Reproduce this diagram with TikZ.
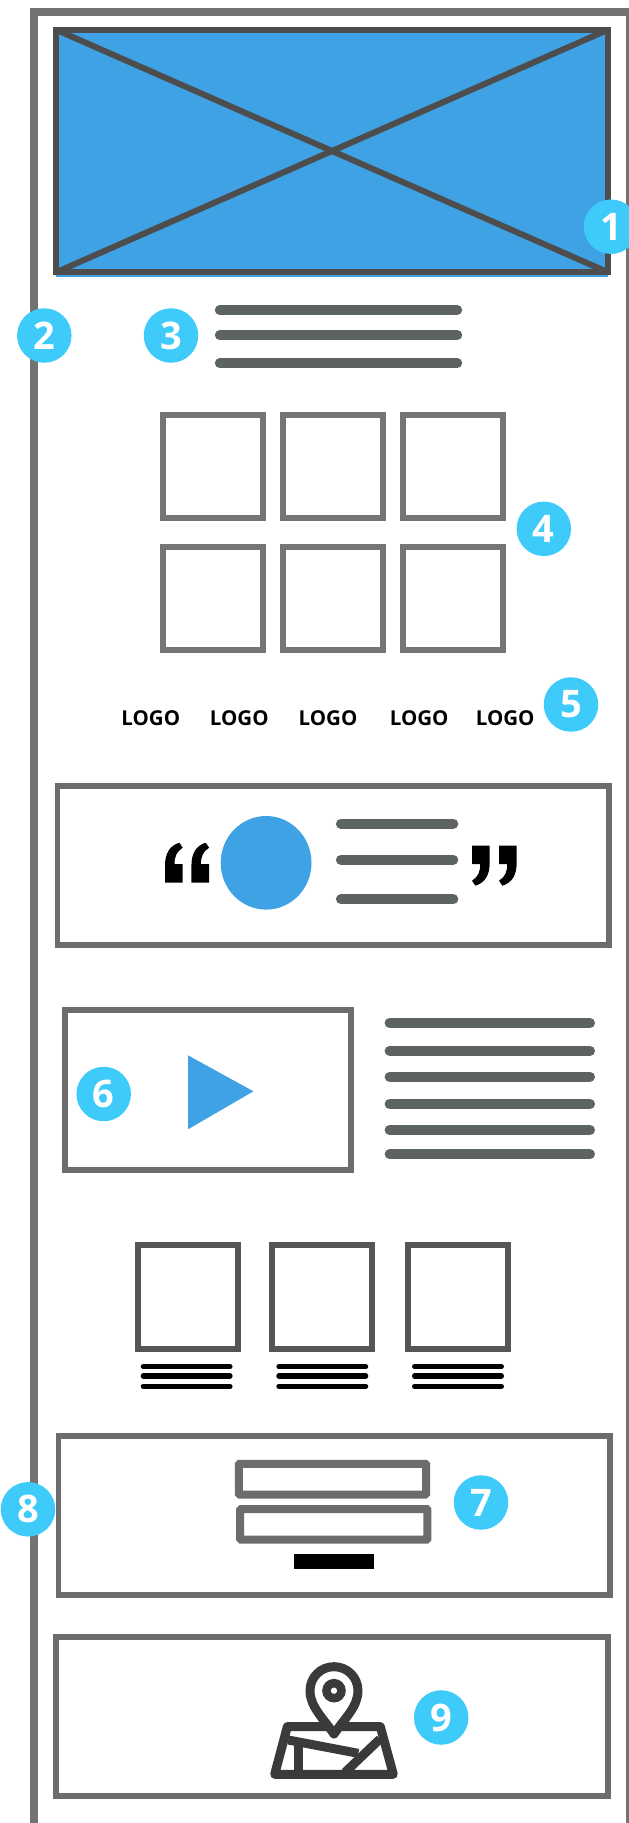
\documentclass[tikz,border=0pt]{standalone}
\usepackage{fontspec}
\setmainfont{Open Sans}
\definecolor{heroblue}{HTML}{3FA2E4}
\definecolor{badge}{HTML}{3ECBFA}
\definecolor{framegrey}{HTML}{737373}
\definecolor{herogrey}{HTML}{4D4D4D}
\definecolor{linegrey}{HTML}{5D6262}
\definecolor{boxgrey}{HTML}{6C6C6C}
\definecolor{gridgrey}{HTML}{757575}
\definecolor{darkgrey}{HTML}{555555}
\definecolor{icongrey}{HTML}{3A3A3A}
\tikzset{
  badgenode/.style={circle,fill=badge,minimum size=54.5pt,inner sep=0pt,text=white,font=\bfseries\fontsize{38}{38}\selectfont},
  logonode/.style={inner sep=0pt,font=\bfseries\fontsize{20.5}{20.5}\selectfont},
  greyline/.style={draw=linegrey,line width=10pt,line cap=round},
  blackline/.style={draw=black,line width=5.4pt,line cap=round},
  panel/.style={draw=boxgrey,line width=5.8pt,fill=white},
  gridbox/.style={draw=gridgrey,line width=5.8pt,fill=white},
  darkbox/.style={draw=darkgrey,line width=5.8pt,fill=white},
  inputbox/.style={draw=boxgrey,line width=8pt,fill=white,rounded corners=1pt},
  iconline/.style={draw=icongrey,line width=9pt,line join=round,line cap=round},
  quoteshape/.style={fill=black},
}
\newcommand{\quoteglyph}{(0,40) -- (17.7,40) -- (17.7,21.5) -- (9.5,21.5) .. controls (9.5,14) and (11.5,9) .. (17.7,5) -- (14.3,0) .. controls (5,3) and (0,10) .. (0,23.3) -- cycle}
\begin{document}
\begin{tikzpicture}[x=1pt,y=-1pt]
\useasboundingbox (0,0) rectangle (629,1823);
% outer frame
\draw[framegrey,line width=7.6pt] (33.7,1830) -- (33.7,12) -- (630,12) -- (630,1830);
% hero
\fill[heroblue] (56,30) rectangle (608,276.7);
\draw[herogrey,line width=6pt] (56,29.7) rectangle (608.1,272.3);
\draw[herogrey,line width=6pt] (56,29.7) -- (608.1,272.3) (608.1,29.7) -- (56,272.3);
% heading lines
\foreach \y in {310,335.3,363.3} \draw[greyline] (219.8,\y) -- (457.2,\y);
% grid
\foreach \xa/\xb in {163/263.3,282.7/383.3,402.7/503}{
  \draw[gridbox] (\xa,414.7) rectangle (\xb,518);
  \draw[gridbox] (\xa,547) rectangle (\xb,650);
}
% logos
\node[logonode] (logoa) at (150.8,718.3) {LOGO};
\node[logonode] (logob) at (239.3,718.3) {LOGO};
\node[logonode] (logoc) at (328,718.3) {LOGO};
\node[logonode] (logod) at (419.2,718.3) {LOGO};
\node[logonode] (logoe) at (505.2,718.3) {LOGO};
% testimonial
\draw[panel] (57.4,785.7) rectangle (609.3,945);
\fill[quoteshape,shift={(165,842.7)}] \quoteglyph;
\fill[quoteshape,shift={(191.4,842.7)}] \quoteglyph;
\fill[quoteshape,shift={(489.7,885.7)},rotate=180] \quoteglyph;
\fill[quoteshape,shift={(516.7,885.7)},rotate=180] \quoteglyph;
\fill[heroblue] (266.1,862.8) ellipse [x radius=45.4,y radius=46.8];
\foreach \y in {823.7,859.7,899.3} \draw[greyline] (340.9,\y) -- (453.3,\y);
% video
\draw[panel] (65,1010.2) rectangle (350.8,1169.9);
\fill[heroblue] (188,1055.3) -- (253.4,1091.3) -- (188,1129.3) -- cycle;
\foreach \y in {1023,1050.7,1076.7,1104,1130,1154.3} \draw[greyline] (389.6,\y) -- (590,\y);
% three cards
\foreach \xa/\xb/\la/\lb in {137.7/238/143.4/229.9,271.7/372/279/365.6,407.7/508/414.7/501.3}{
  \draw[darkbox] (\xa,1244.7) rectangle (\xb,1348.9);
  \foreach \y in {1366.7,1376,1386.3} \draw[blackline] (\la,\y) -- (\lb,\y);
}
% form
\draw[panel] (58.4,1435.8) rectangle (610.2,1595.2);
\draw[inputbox] (238.8,1463.8) rectangle (426.2,1494.5);
\draw[inputbox] (240.2,1509) rectangle (427.4,1539.7);
\fill[black] (294,1554) rectangle (373.8,1569);
% map panel
\draw[panel] (55.9,1636.8) rectangle (607.6,1796);
\begin{scope}[shift={(240,1640)},x=0.3333pt,y=-0.3333pt]
  \draw[iconline] (142,260) -- (421,260) -- (460,403) -- (104,403) -- cycle;
  \draw[iconline,line cap=butt] (145,300) -- (355,340);
  \draw[iconline,line cap=butt] (420,297) -- (315,397);
  \draw[iconline,line cap=butt] (176,305) -- (176,403);
  \draw[iconline,fill=white] (282,282) .. controls (250,235) and (210,200) .. (210,152) .. controls (210,112) and (242,80) .. (282,80) .. controls (322,80) and (354,112) .. (354,152) .. controls (354,200) and (314,235) .. (282,282) -- cycle;
  \draw[icongrey,line width=8.5pt] (282,152) circle [radius=22.5];
\end{scope}
% badges
\node[badgenode] (n1) at (611,226.7) {1};
\node[badgenode] (n2) at (44.3,335.5) {2};
\node[badgenode] (n3) at (171,335.5) {3};
\node[badgenode] (n4) at (543.8,528.8) {4};
\node[badgenode] (n5) at (571,704.5) {5};
\node[badgenode] (n6) at (103.7,1094) {6};
\node[badgenode] (n7) at (481,1502.5) {7};
\node[badgenode] (n8) at (28,1509.3) {8};
\node[badgenode] (n9) at (441.2,1717.5) {9};
\end{tikzpicture}
\end{document}
